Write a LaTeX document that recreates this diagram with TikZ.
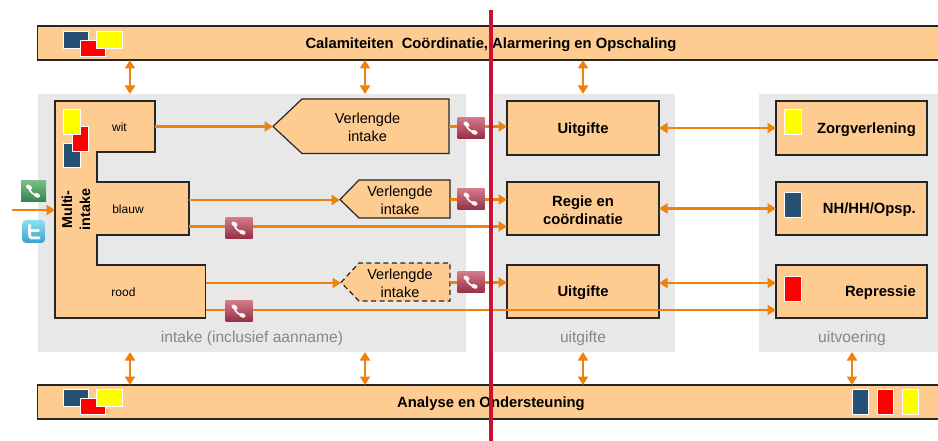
\documentclass[tikz,border=0pt]{standalone}
\usepackage{fontspec}
\setmainfont{Liberation Sans}
\usetikzlibrary{arrows.meta}
\definecolor{boxfill}{RGB}{254,203,144}
\definecolor{oline}{RGB}{238,130,12}
\definecolor{greybg}{RGB}{232,232,232}
\definecolor{captxt}{RGB}{135,135,135}
\definecolor{fblue}{RGB}{38,80,116}
\definecolor{fred}{RGB}{255,0,0}
\definecolor{fyel}{RGB}{255,255,0}
\definecolor{redbar}{RGB}{200,20,50}
\definecolor{winetop}{RGB}{212,122,138}
\definecolor{winebot}{RGB}{150,48,70}
\definecolor{greentop}{RGB}{120,190,130}
\definecolor{greenbot}{RGB}{50,135,80}
\definecolor{birdtop}{RGB}{140,225,240}
\definecolor{birdbot}{RGB}{60,160,205}
\newcommand{\fsz}[2]{\fontsize{#1}{#2}\selectfont}
\tikzset{
  x=1pt,y=-1pt,
  greyzone/.style={fill=greybg,draw=none,inner sep=0,outer sep=0},
  boxn/.style={draw=black!85,line width=1.2pt,fill=boxfill,inner sep=0,outer sep=0},
  poly/.style={draw=black!85,line width=1.2pt,fill=boxfill,line join=miter},
  conn/.style={draw=oline,line width=2.4pt},
  arr/.style={conn,-{Triangle[length=8.5pt,width=10pt]}},
  dbl/.style={conn,{Triangle[length=8.5pt,width=10pt]}-{Triangle[length=8.5pt,width=10pt]}},
  lab/.style={inner sep=0,align=center,text=black,font=\fsz{14.5}{18}},
  blab/.style={inner sep=0,align=center,text=black,font=\fsz{14.8}{18}\bfseries},
  slab/.style={inner sep=0,text=black,font=\fsz{12}{14}},
  captext/.style={inner sep=0,text=captxt,font=\fsz{15.6}{18}},
  flag/.style={draw=white,line width=1pt},
  wineicon/.style={inner sep=0,outer sep=0,minimum width=27pt,minimum height=20.5pt,top color=winetop,bottom color=winebot,draw=none},
  greenicon/.style={inner sep=0,outer sep=0,minimum width=25pt,minimum height=20.5pt,top color=greentop,bottom color=greenbot,draw=none},
  birdicon/.style={inner sep=0,outer sep=0,minimum width=23pt,minimum height=23pt,rounded corners=4pt,top color=birdtop,bottom color=birdbot,draw=none},
  handset/.pic={
    \draw[white!90!pink,line width=1.6pt,line cap=round] (-5,-4) .. controls (-4,1) and (0,4) .. (5,5);
    \draw[white!90!pink,line width=4pt,line cap=round] (-5.5,-4.5) -- (-3.5,-3);
    \draw[white!90!pink,line width=4pt,line cap=round] (2.5,4) -- (4.5,4.8);
  },
}
\begin{document}
\begin{tikzpicture}
\useasboundingbox (0,0) rectangle (938,441);
\clip (0,0) rectangle (938,441);
\fill[white] (0,0) rectangle (938,441);

% grey zones
\node[greyzone,minimum width=428pt,minimum height=258pt] (zintake) at (252,223) {};
\node[greyzone,minimum width=181pt,minimum height=258pt] (zuitg) at (584.5,223) {};
\node[greyzone,minimum width=181pt,minimum height=258pt] (zuitv) at (849.5,223) {};
\node[captext] (capa) at (252,338.5) {intake (inclusief aanname)};
\node[captext] (capb) at (583,338.5) {uitgifte};
\node[captext] (capc) at (852,338.5) {uitvoering};

% bars
\node[boxn,minimum width=905pt,minimum height=34pt] (cal) at (490,43) {};
\node[boxn,minimum width=905pt,minimum height=34pt] (ana) at (490,402) {};
\node[blab] (calt) at (491,44.5) {Calamiteiten\ \ Coördinatie, Alarmering en Opschaling};
\node[blab] (anat) at (491,403.5) {Analyse en Ondersteuning};

% x positions of the vertical arrows
\coordinate (v1) at (130,0);
\coordinate (v2) at (365,0);
\coordinate (v3) at (583,0);
\coordinate (v4) at (852,0);
\draw[dbl] (cal.south -| v1) -- (zintake.north -| v1);
\draw[dbl] (cal.south -| v2) -- (zintake.north -| v2);
\draw[dbl] (cal.south -| v3) -- (zuitg.north -| v3);
\draw[dbl] (zintake.south -| v1) -- (ana.north -| v1);
\draw[dbl] (zintake.south -| v2) -- (ana.north -| v2);
\draw[dbl] (zuitg.south -| v3) -- (ana.north -| v3);
\draw[dbl] (zuitv.south -| v4) -- (ana.north -| v4);

% multi-intake shape
\draw[poly] (55,101) -- (155,101) -- (155,152) -- (97,152) -- (97,182) -- (189,182) -- (189,235) -- (97,235) -- (97,265) -- (205.5,265) -- (205.5,318) -- (55,318) -- cycle;
\node[blab,rotate=90,font=\fsz{14.3}{18}\bfseries] (multi) at (76,209.5) {Multi-\\intake};
\node[slab] (twit) at (119.5,127.5) {wit};
\node[slab] (tblauw) at (128,209) {blauw};
\node[slab] (trood) at (123.5,292.5) {rood};
\coordinate (owit) at (155,126.5);
\coordinate (oblauw) at (189,200);
\coordinate (oblauwb) at (189,226.5);
\coordinate (orood) at (205.5,283);
\coordinate (oroodb) at (205.5,310);
\coordinate (imulti) at (55,210);
\coordinate (ifree) at (12,210);

% verlengde intake
\coordinate (t1) at (273,126.5);
\coordinate (t2) at (340,199.5);
\coordinate (t3) at (341,282.5);
\draw[poly] (t1) -- (302,99) -- (449,99) -- (449,153.5) -- (302,153.5) -- cycle;
\draw[poly] (t2) -- (359,180) -- (450,180) -- (450,218) -- (359,218) -- cycle;
\draw[poly,dash pattern=on 5pt off 3.5pt] (t3) -- (359,263) -- (450,263) -- (450,301) -- (359,301) -- cycle;
\node[lab] (vl1) at (367.5,127) {Verlengde\\intake};
\node[lab] (vl2) at (400,200) {Verlengde\\intake};
\node[lab] (vl3) at (400,283) {Verlengde\\intake};
\coordinate (r1) at (449,126.5);
\coordinate (r2) at (450,199.5);
\coordinate (r3) at (450,282.5);

% uitgifte column
\node[boxn,minimum width=152pt,minimum height=54pt] (u1) at (583,128) {};
\node[boxn,minimum width=152pt,minimum height=53pt] (u2) at (583,208.5) {};
\node[boxn,minimum width=152pt,minimum height=53pt] (u3) at (583,291.5) {};
\node[blab] (u1t) at (583,129.5) {Uitgifte};
\node[blab] (u2t) at (583,210) {Regie en\\coördinatie};
\node[blab] (u3t) at (583,293) {Uitgifte};

% uitvoering column
\node[boxn,minimum width=151pt,minimum height=54pt] (w1) at (851.5,128) {};
\node[boxn,minimum width=151pt,minimum height=53pt] (w2) at (851.5,208.5) {};
\node[boxn,minimum width=151pt,minimum height=53pt] (w3) at (851.5,291.5) {};
\node[blab,anchor=east] (w1t) at (916,129.5) {Zorgverlening};
\node[blab,anchor=east] (w2t) at (916,209.5) {NH/HH/Opsp.};
\node[blab,anchor=east] (w3t) at (916,293) {Repressie};

% connectors
\draw[arr] (ifree) -- (imulti);
\draw[arr] (owit) -- (t1);
\draw[arr] (oblauw) -- (t2 |- oblauw);
\draw[arr] (orood) -- (t3 |- orood);
\draw[arr] (r1) -- (u1.west |- r1);
\draw[arr] (r2) -- (u2.west |- r2);
\draw[arr] (r3) -- (u3.west |- r3);
\draw[arr] (oblauwb) -- (u2.west |- oblauwb);
\draw[arr] (oroodb) -- (w3.west |- oroodb);
\draw[dbl] (u1.east) -- (w1.west);
\draw[dbl] (u2.east) -- (w2.west);
\draw[dbl] (u3.east |- orood) -- (w3.west |- orood);

% call icons
\node[wineicon] (ph1) at (471,128) {};
\node[wineicon] (ph2) at (471,199) {};
\node[wineicon] (ph3) at (471,282) {};
\node[wineicon] (ph4) at (239,228) {};
\node[wineicon] (ph5) at (239,311) {};
\foreach \n in {ph1,ph2,ph3,ph4,ph5} \pic at (\n) {handset};
\node[greenicon] (ph0) at (33.5,191) {};
\pic at (ph0) {handset};
\node[birdicon] (bird) at (33.7,231.5) {};
\draw[white,line width=3pt,line cap=round,line join=round,opacity=.9] (29.5,225) -- (29.5,235) .. controls (29.5,237.5) and (31,238) .. (33,238) -- (39,238);
\draw[white,line width=3pt,line cap=round,opacity=.9] (29.5,231) -- (38.5,231);

% colour flags
\foreach \yo in {0,357}{
  \draw[flag,fill=fblue] (63,32+\yo) rectangle (88,49+\yo);
  \draw[flag,fill=fred] (80,41+\yo) rectangle (105,57+\yo);
  \draw[flag,fill=fyel] (96.5,32+\yo) rectangle (122,49+\yo);
}
\draw[flag,fill=fblue] (63,144) rectangle (80,168);
\draw[flag,fill=fred] (72,127) rectangle (88,152);
\draw[flag,fill=fyel] (63,110) rectangle (80,135);
\draw[flag,fill=fyel] (784.5,109.5) rectangle (801,135);
\draw[flag,fill=fblue] (784.5,193) rectangle (801,218);
\draw[flag,fill=fred] (784.5,276) rectangle (801,301);
\draw[flag,fill=fblue] (852,389) rectangle (868,414);
\draw[flag,fill=fred] (877,389) rectangle (893,414);
\draw[flag,fill=fyel] (902,389) rectangle (918,414);

% red divider
\draw[draw=redbar,line width=4.5pt] (491,10) -- (491,441);
\end{tikzpicture}
\end{document}
